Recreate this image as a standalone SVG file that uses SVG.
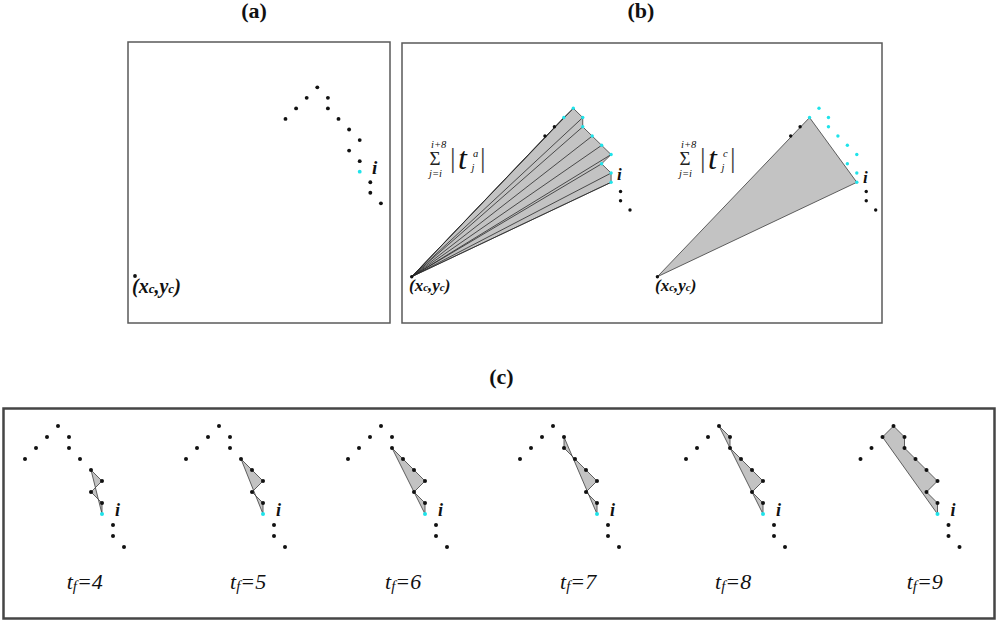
<svg xmlns="http://www.w3.org/2000/svg" xmlns:xlink="http://www.w3.org/1999/xlink" width="1000" height="624" viewBox="0 0 1000 624">
<style>
.k{fill:#111}
.cy{fill:#1fe3ea}
.box{fill:none;stroke:#5a5a5a;stroke-width:1.5}
.boxc{fill:none;stroke:#454545;stroke-width:2.5}
.shade{fill:#c3c3c3;stroke:#3c3c3c;stroke-width:0.8;stroke-linejoin:round}
.ray{fill:none;stroke:#2a2a2a;stroke-width:0.8}
.title{font-family:"Liberation Serif","Times New Roman","DejaVu Serif",serif;font-weight:bold;font-size:22px;text-anchor:middle;fill:#111}
.it{font-family:"Liberation Serif","Times New Roman","DejaVu Serif",serif;font-style:italic;fill:#111}
.rm{font-family:"Liberation Serif","Times New Roman","DejaVu Serif",serif;fill:#222}
.bar{font-family:"Liberation Serif","Times New Roman","DejaVu Serif",serif;fill:#444}
.sm{font-family:"Liberation Serif","Times New Roman","DejaVu Serif",serif;font-style:italic;fill:#111;font-size:10.5px}
</style>
<defs>
<g id="traj">
<circle class="k" cx="-33" cy="33" r="2"/>
<circle class="k" cx="-22" cy="22" r="2"/>
<circle class="k" cx="-11" cy="11" r="2"/>
<circle class="k" cx="0" cy="0" r="2"/>
<circle class="k" cx="11" cy="11" r="2"/>
<circle class="k" cx="11" cy="22" r="2"/>
<circle class="k" cx="22" cy="33" r="2"/>
<circle class="k" cx="33" cy="44" r="2"/>
<circle class="k" cx="44" cy="55" r="2"/>
<circle class="k" cx="33" cy="66" r="2"/>
<circle class="k" cx="44" cy="77" r="2"/>
<circle class="cy" cx="44" cy="88" r="2"/>
<circle class="k" cx="55" cy="99" r="2"/>
<circle class="k" cx="55" cy="110" r="2"/>
<circle class="k" cx="66" cy="121" r="2"/>
</g>
<g id="bdots">
<circle class="k" cx="-28.35" cy="27.75" r="1.7"/>
<circle class="k" cx="-18.9" cy="18.5" r="1.7"/>
<circle class="cy" cx="-9.45" cy="9.25" r="1.7"/>
<circle class="cy" cx="0" cy="0" r="1.7"/>
<circle class="cy" cx="9.45" cy="9.25" r="1.7"/>
<circle class="cy" cx="9.45" cy="18.5" r="1.7"/>
<circle class="cy" cx="18.9" cy="27.75" r="1.7"/>
<circle class="cy" cx="28.35" cy="37" r="1.7"/>
<circle class="cy" cx="37.8" cy="46.25" r="1.7"/>
<circle class="cy" cx="28.35" cy="55.5" r="1.7"/>
<circle class="cy" cx="37.8" cy="64.75" r="1.7"/>
<circle class="cy" cx="37.8" cy="74" r="1.7"/>
<circle class="k" cx="47.25" cy="83.25" r="1.7"/>
<circle class="k" cx="47.25" cy="92.5" r="1.7"/>
<circle class="k" cx="56.7" cy="101.75" r="1.7"/>
<circle class="k" cx="-161.6" cy="168.4" r="1.7"/>
</g>
</defs>

<g id="panel-a">
<text class="title" x="254" y="18">(a)</text>
<rect class="box" x="128" y="42" width="262" height="281"/>
<use href="#traj" transform="translate(317.3,87.3) scale(0.964,0.959)"/>
<circle class="k" cx="135" cy="276" r="1.9"/>
<text class="it" x="372" y="173.5" font-size="19" font-weight="bold">i</text>
<text class="it" x="132" y="293" font-size="20" font-weight="bold">(x<tspan font-size="13">c</tspan>,y<tspan font-size="13">c</tspan>)</text>
</g>

<g id="panel-b">
<text class="title" x="641" y="18">(b)</text>
<rect class="box" x="402" y="43" width="480" height="280"/>
<g id="fan-a" transform="translate(573.3,108.3)">
<polygon class="shade" points="-161.6,168.4 -9.45,9.25 0,0 9.45,9.25 9.45,18.5 18.9,27.75 28.35,37 37.8,46.25 28.35,55.5 37.8,64.75 37.8,74"/>
<path class="ray" d="M-161.6,168.4L-9.45,9.25M-161.6,168.4L0,0M-161.6,168.4L9.45,9.25M-161.6,168.4L9.45,18.5M-161.6,168.4L18.9,27.75M-161.6,168.4L28.35,37M-161.6,168.4L37.8,46.25M-161.6,168.4L28.35,55.5M-161.6,168.4L37.8,64.75M-161.6,168.4L37.8,74"/>
<use href="#bdots"/>
</g>
<text class="it" x="617" y="180" font-size="17" font-weight="bold">i</text>
<text class="it" x="409" y="291" font-size="17" font-weight="bold">(x<tspan font-size="11">c</tspan>,y<tspan font-size="11">c</tspan>)</text>
<g id="sum-a">
<text class="sm" x="431" y="148">i+8</text>
<text class="rm" x="429.5" y="165" font-size="19">Σ</text>
<text class="sm" x="429" y="177">j=i</text>
<text class="bar" x="450" y="167" font-size="28">|</text>
<text class="it" x="458" y="169" font-size="32">t</text>
<text class="sm" x="473" y="157">a</text>
<text class="sm" x="471.5" y="171">j</text>
<text class="bar" x="480" y="167" font-size="28">|</text>
</g>
<g id="fan-c" transform="translate(819,108.3)">
<polygon class="shade" points="-161.6,168.4 -9.45,9.25 37.8,74"/>
<use href="#bdots"/>
</g>
<text class="it" x="863" y="183" font-size="17" font-weight="bold">i</text>
<text class="it" x="655" y="291" font-size="17" font-weight="bold">(x<tspan font-size="11">c</tspan>,y<tspan font-size="11">c</tspan>)</text>
<g id="sum-c">
<text class="sm" x="681" y="148">i+8</text>
<text class="rm" x="679.5" y="165" font-size="19">Σ</text>
<text class="sm" x="679" y="177">j=i</text>
<text class="bar" x="700" y="167" font-size="28">|</text>
<text class="it" x="708" y="169" font-size="32">t</text>
<text class="sm" x="723" y="157">c</text>
<text class="sm" x="721.5" y="171">j</text>
<text class="bar" x="730" y="167" font-size="28">|</text>
</g>
</g>

<g id="panel-c">
<text class="title" x="501.5" y="384">(c)</text>
<rect class="boxc" x="3.5" y="408.5" width="991" height="210"/>
<g id="tf4" transform="translate(58,426)">
<polygon class="shade" points="33,44 44,55 33,66 44,77 44,88"/>
<use href="#traj"/>
<text class="it" x="57" y="90" font-size="18" font-weight="bold">i</text>
<text class="it" x="8.7" y="163" font-size="22">t<tspan font-size="15" dy="2">f</tspan><tspan dy="-2">=4</tspan></text>
</g>
<g id="tf5" transform="translate(219,426)">
<polygon class="shade" points="22,33 33,44 44,55 33,66 44,77 44,88"/>
<use href="#traj"/>
<text class="it" x="57" y="90" font-size="18" font-weight="bold">i</text>
<text class="it" x="11" y="163" font-size="22">t<tspan font-size="15" dy="2">f</tspan><tspan dy="-2">=5</tspan></text>
</g>
<g id="tf6" transform="translate(381,426)">
<polygon class="shade" points="11,22 22,33 33,44 44,55 33,66 44,77 44,88"/>
<use href="#traj"/>
<text class="it" x="57" y="90" font-size="18" font-weight="bold">i</text>
<text class="it" x="4" y="163" font-size="22">t<tspan font-size="15" dy="2">f</tspan><tspan dy="-2">=6</tspan></text>
</g>
<g id="tf7" transform="translate(553,426)">
<polygon class="shade" points="11,11 11,22 22,33 33,44 44,55 33,66 44,77 44,88"/>
<use href="#traj"/>
<text class="it" x="57" y="90" font-size="18" font-weight="bold">i</text>
<text class="it" x="7" y="163" font-size="22">t<tspan font-size="15" dy="2">f</tspan><tspan dy="-2">=7</tspan></text>
</g>
<g id="tf8" transform="translate(719,426)">
<polygon class="shade" points="0,0 11,11 11,22 22,33 33,44 44,55 33,66 44,77 44,88"/>
<use href="#traj"/>
<text class="it" x="57" y="90" font-size="18" font-weight="bold">i</text>
<text class="it" x="-4" y="163" font-size="22">t<tspan font-size="15" dy="2">f</tspan><tspan dy="-2">=8</tspan></text>
</g>
<g id="tf9" transform="translate(893.5,426)">
<polygon class="shade" points="-11,11 0,0 11,11 11,22 22,33 33,44 44,55 33,66 44,77 44,88"/>
<use href="#traj"/>
<text class="it" x="57" y="90" font-size="18" font-weight="bold">i</text>
<text class="it" x="13.2" y="163" font-size="22">t<tspan font-size="15" dy="2">f</tspan><tspan dy="-2">=9</tspan></text>
</g>
</g>
</svg>
